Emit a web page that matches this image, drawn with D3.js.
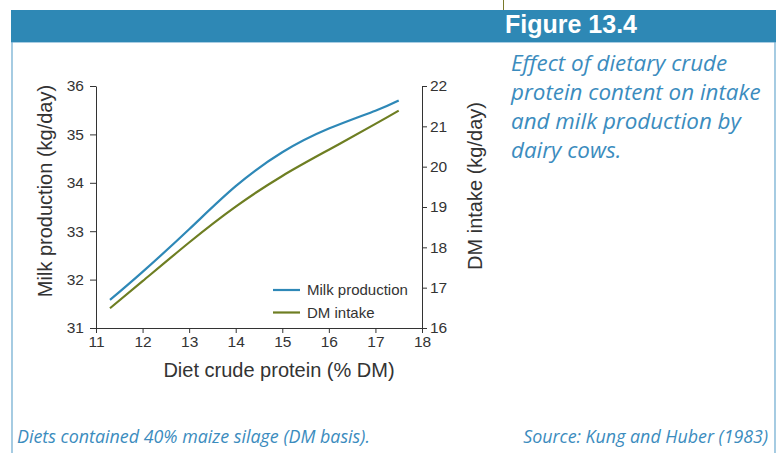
<!DOCTYPE html>
<html><head><meta charset="utf-8">
<script src="https://cdn.jsdelivr.net/npm/d3@7"></script>
<style>body{margin:0;background:#fff;}svg{display:block;}</style>
</head><body>
<svg id="c" width="781" height="453"></svg>
<script>
const protein = [11.3, 12, 13, 14, 15, 16, 17, 17.5];
const milk =    [31.58, 32.16, 33.04, 33.93, 34.63, 35.12, 35.49, 35.70];
const dmIntake =[16.49, 17.16, 18.12, 19.01, 19.77, 20.42, 21.06, 21.39];
const xTicks = [11,12,13,14,15,16,17,18];
const milkTicks = [31,32,33,34,35,36];
const dmTicks = [16,17,18,19,20,21,22];
const seriesNames = ["Milk production", "DM intake"];
const titleText = "Figure 13.4";
const captionLines = ["Effect of dietary crude", "protein content on intake", "and milk production by", "dairy cows."];
const footLeft = "Diets contained 40% maize silage (DM basis).";
const footRight = "Source: Kung and Huber (1983)";

const svg = d3.select("#c");
const blue = "#2E88B7", olive = "#6E7E22", banner = "#2E88B5", txtBlue = "#3B8CBE";

function fitWidth(sel, target){
  sel.each(function(){
    const fs = parseFloat(this.getAttribute("font-size"));
    const w = this.getComputedTextLength();
    if (w > 0) this.setAttribute("font-size", (fs*target/w).toFixed(2));
  });
}

// frame
svg.append("line").attr("x1",503.5).attr("x2",503.5).attr("y1",0).attr("y2",10).attr("stroke","#7a7a2a").attr("stroke-width",1);
svg.append("rect").attr("x",11).attr("y",10).attr("width",765).attr("height",32).attr("fill",banner);
svg.append("line").attr("x1",11).attr("x2",776).attr("y1",42.5).attr("y2",42.5).attr("stroke","#a9cde3").attr("stroke-width",1);
svg.append("line").attr("x1",12).attr("x2",12).attr("y1",42).attr("y2",453).attr("stroke","#6aa9cf").attr("stroke-width",1.2);
svg.append("line").attr("x1",775).attr("x2",775).attr("y1",42).attr("y2",453).attr("stroke","#6aa9cf").attr("stroke-width",1.2);

const title = svg.append("text").attr("x",0).attr("y",0).text(titleText)
  .attr("fill","#fff").attr("font-family","'Liberation Sans'").attr("font-weight","bold").attr("font-size",25);
{
  const w = title.node().getComputedTextLength();
  title.attr("transform",`translate(505,33) scale(${(132/w).toFixed(3)},1)`);
}

const capWidths = [216, 251, 230, 112];
const capG = svg.append("g");
capG.selectAll("text").data(captionLines).join("text")
  .attr("x",511).attr("y",(d,i)=>71+i*29).text(d=>d)
  .attr("fill",txtBlue).attr("font-family","'Open Sans'").attr("font-style","italic").attr("font-weight",400).attr("font-size",22)
  .each(function(d,i){ fitWidth(d3.select(this), capWidths[i]); });
{
  const sizes = [];
  capG.selectAll("text").each(function(){ sizes.push(+this.getAttribute("font-size")); });
  capG.selectAll("text").attr("font-size", d3.median(sizes.slice(0,3)));
}

const fl = svg.append("text").attr("x",17).attr("y",443).text(footLeft)
  .attr("fill",txtBlue).attr("font-family","'Open Sans'").attr("font-style","italic").attr("font-weight",400).attr("font-size",16);
fitWidth(fl, 353);
const fr = svg.append("text").attr("x",768).attr("y",443).attr("text-anchor","end").text(footRight)
  .attr("fill",txtBlue).attr("font-family","'Open Sans'").attr("font-style","italic").attr("font-weight",400).attr("font-size",16);
fitWidth(fr, 245);

// chart
const x = d3.scaleLinear().domain([11,18]).range([96,422]);
const yL = d3.scaleLinear().domain([31,36]).range([328,86]);
const yR = d3.scaleLinear().domain([16,22]).range([328,86]);
const font = "'Liberation Sans', Arial, sans-serif";
const axisCol = "#333";

function style(g){
  g.selectAll("path,line").attr("stroke",axisCol).attr("stroke-width",1);
  g.selectAll("text").attr("font-family",font).attr("font-size",15.5).attr("fill","#333");
}
svg.append("g").attr("transform","translate(0,328)")
  .call(d3.axisBottom(x).tickValues(xTicks).tickFormat(d3.format("d")).tickSize(5).tickSizeOuter(0).tickPadding(3)).call(style);
svg.append("g").attr("transform","translate(96,0)")
  .call(d3.axisLeft(yL).tickValues(milkTicks).tickFormat(d3.format("d")).tickSize(6).tickSizeOuter(0).tickPadding(6)).call(style);
svg.append("g").attr("transform","translate(422,0)")
  .call(d3.axisRight(yR).tickValues(dmTicks).tickFormat(d3.format("d")).tickSize(5).tickSizeOuter(0).tickPadding(3)).call(style);

svg.append("text").attr("x",279).attr("y",377).attr("text-anchor","middle").text("Diet crude protein (% DM)")
  .attr("font-family",font).attr("font-size",20).attr("fill","#333");
svg.append("text").attr("transform","translate(52,191) rotate(-90)").attr("text-anchor","middle").text("Milk production (kg/day)")
  .attr("font-family",font).attr("font-size",20).attr("fill","#333");
svg.append("text").attr("transform","translate(482,186) rotate(-90)").attr("text-anchor","middle").text("DM intake (kg/day)")
  .attr("font-family",font).attr("font-size",20).attr("fill","#333");

const lineM = d3.line().x((d,i)=>x(protein[i])).y(d=>yL(d)).curve(d3.curveNatural);
const lineD = d3.line().x((d,i)=>x(protein[i])).y(d=>yR(d)).curve(d3.curveNatural);
svg.append("path").attr("d",lineD(dmIntake)).attr("fill","none").attr("stroke",olive).attr("stroke-width",2.2);
svg.append("path").attr("d",lineM(milk)).attr("fill","none").attr("stroke",blue).attr("stroke-width",2.2);

// legend
const leg = svg.append("g");
[blue, olive].forEach((c,i)=>{
  leg.append("line").attr("x1",273).attr("x2",300).attr("y1",290+i*22.5).attr("y2",290+i*22.5).attr("stroke",c).attr("stroke-width",2.2);
  leg.append("text").attr("x",307).attr("y",295+i*22.5).text(seriesNames[i])
    .attr("font-family",font).attr("font-size",15).attr("fill","#333");
});
</script>
</body></html>
